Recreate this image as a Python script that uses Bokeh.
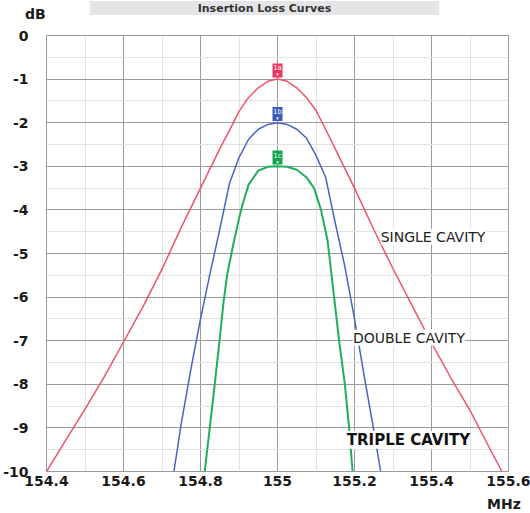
from bokeh.plotting import figure
from bokeh.models import FixedTicker, Label, ColumnDataSource
from bokeh.transform import dodge
from bokeh.core.properties import value
from bokeh.embed import file_html
from bokeh.resources import INLINE

# ---- data ----
single_f = [154.40, 154.45, 154.50, 154.55, 154.60, 154.65, 154.70, 154.75, 154.80, 154.85,
            154.875, 154.90, 154.925, 154.95, 154.975, 155.00, 155.025, 155.05, 155.075, 155.10,
            155.125, 155.15, 155.20, 155.25, 155.30, 155.35, 155.40, 155.45, 155.50, 155.55,
            155.583]
single_db = [-10.0, -9.28, -8.57, -7.83, -7.03, -6.23, -5.36, -4.4, -3.5, -2.6,
             -2.18, -1.74, -1.42, -1.2, -1.05, -1.0, -1.05, -1.2, -1.42, -1.72,
             -2.15, -2.6, -3.5, -4.45, -5.35, -6.2, -7.05, -7.85, -8.6, -9.45,
             -10.0]

double_f = [154.731, 154.75, 154.775, 154.80, 154.825, 154.85, 154.875, 154.90, 154.925, 154.95,
            154.975, 155.00, 155.025, 155.05, 155.075, 155.10, 155.125, 155.15, 155.175, 155.20,
            155.225, 155.25, 155.268]
double_db = [-10.0, -8.9, -7.65, -6.5, -5.45, -4.45, -3.4, -2.8, -2.38, -2.15,
             -2.04, -2.0, -2.04, -2.15, -2.35, -2.75, -3.25, -4.3, -5.3, -6.5,
             -7.8, -9.05, -10.0]

triple_f = [154.811, 154.824, 154.837, 154.85, 154.86, 154.87, 154.885, 154.90, 154.91, 154.925,
            154.95, 154.975, 155.00, 155.025, 155.05, 155.075, 155.095, 155.113, 155.13, 155.147,
            155.16, 155.175, 155.186, 155.195]
triple_db = [-10.0, -9.0, -8.0, -6.95, -6.1, -5.45, -4.8, -4.2, -3.85, -3.42,
             -3.1, -3.01, -3.0, -3.01, -3.08, -3.25, -3.5, -4.0, -4.7, -6.0,
             -7.0, -8.0, -9.0, -10.0]

x_ticks = [154.4, 154.6, 154.8, 155.0, 155.2, 155.4, 155.6]
x_tick_labels = ["154.4", "154.6", "154.8", "155", "155.2", "155.4", "155.6"]
x_minor = [154.5, 154.7, 154.9, 155.1, 155.3, 155.5]
y_ticks = [0, -1, -2, -3, -4, -5, -6, -7, -8, -9, -10]
y_tick_labels = ["0", "-1", "-2", "-3", "-4", "-5", "-6", "-7", "-8", "-9", "-10"]
y_minor = [-0.5, -1.5, -2.5, -3.5, -4.5, -5.5, -6.5, -7.5, -8.5, -9.5]

marker_labels = ["1a", "1b", "1c"]
curve_names = ["SINGLE CAVITY", "DOUBLE CAVITY", "TRIPLE CAVITY"]
title_text = "Insertion Loss Curves"
x_unit = "MHz"
y_unit = "dB"

RED, BLUE, GREEN = "#f0526c", "#4b62c2", "#1fae5c"
BOX_COLORS = ["#e8385c", "#3a5bb8", "#16a34e"]

p = figure(width=530, height=513, x_range=(154.4, 155.6), y_range=(-10, 0),
           output_backend="svg", toolbar_location=None,
           min_border_left=44, min_border_right=22, min_border_top=35, min_border_bottom=42)

p.background_fill_color = "white"
p.border_fill_color = "white"
p.outline_line_color = "#9a9a9a"

p.xaxis.ticker = FixedTicker(ticks=x_ticks, minor_ticks=x_minor)
p.yaxis.ticker = FixedTicker(ticks=y_ticks, minor_ticks=y_minor)
p.xaxis.major_label_overrides = dict(zip(x_ticks, x_tick_labels))
p.yaxis.major_label_overrides = dict(zip(y_ticks, y_tick_labels))

for ax in (p.xaxis[0], p.yaxis[0]):
    ax.axis_line_color = None
    ax.major_tick_line_color = None
    ax.minor_tick_line_color = None
    ax.major_tick_out = 0
    ax.major_tick_in = 0
    ax.minor_tick_out = 0
    ax.minor_tick_in = 0
    ax.major_label_text_font = "DejaVu Sans"
    ax.major_label_text_font_style = "bold"
    ax.major_label_text_font_size = "14px"
    ax.major_label_text_color = "#1a1a1a"
p.xaxis.major_label_standoff = 4
p.yaxis.major_label_standoff = 18
p.yaxis.major_label_text_align = "center"

for g in (p.xgrid[0], p.ygrid[0]):
    g.grid_line_color = "#9a9a9a"
    g.grid_line_width = 1
    g.minor_grid_line_color = "#e2e2e2"
    g.minor_grid_line_width = 1

p.line(single_f, single_db, line_color=RED, line_width=1.5)
p.line(double_f, double_db, line_color=BLUE, line_width=1.5)
p.line(triple_f, triple_db, line_color=GREEN, line_width=2)

peak_src = ColumnDataSource(dict(
    x=[single_f[single_db.index(max(single_db))],
       double_f[double_db.index(max(double_db))],
       triple_f[triple_db.index(max(triple_db))]],
    y=[max(single_db), max(double_db), max(triple_db)],
    lab=marker_labels,
    col=BOX_COLORS,
))
p.rect(x="x", y=dodge("y", 0.2, range=p.y_range), width=10, height=14,
       width_units="screen", height_units="screen",
       fill_color="col", line_color=None, source=peak_src)
p.text(x="x", y=dodge("y", 0.2, range=p.y_range), text="lab", source=peak_src,
       text_align="center", text_baseline="middle", y_offset=-2,
       text_font=value("DejaVu Sans"), text_font_size="7px", text_color="white")
p.text(x="x", y=dodge("y", 0.2, range=p.y_range), text=value("▾"), source=peak_src,
       text_align="center", text_baseline="middle", y_offset=4,
       text_font=value("DejaVu Sans"), text_font_size="5px", text_color="white")

# curve name labels
p.add_layout(Label(x=155.268, y=-4.614, text=curve_names[0], text_baseline="middle",
                   text_font="DejaVu Sans", text_font_size="14px", text_color="#222222",
                   background_fill_color="white"))
p.add_layout(Label(x=155.196, y=-6.93, text=curve_names[1], text_baseline="middle",
                   text_font="DejaVu Sans", text_font_size="14px", text_color="#222222",
                   background_fill_color="white"))
p.add_layout(Label(x=155.180, y=-9.27, text=curve_names[2], text_baseline="middle",
                   text_font="DejaVu Sans", text_font_style="bold", text_font_size="15px",
                   text_color="#111111", background_fill_color="white"))

# labels outside the frame live in side panels (not clipped by the frame)
p.add_layout(Label(x=-21.5, y=22, x_units="screen", y_units="screen", text=y_unit,
                   text_baseline="middle", text_font="DejaVu Sans", text_font_style="bold",
                   text_font_size="14px", text_color="#1a1a1a"), "above")
p.add_layout(Label(x=218, y=4.6, x_units="screen", y_units="screen",
                   text=title_text, text_align="center", text_baseline="bottom",
                   text_font="DejaVu Sans", text_font_style="bold", text_font_size="11px",
                   text_color="#333333", background_fill_color="#e5e5e8",
                   padding=dict(left=108, right=108, top=1, bottom=0)), "above")
p.add_layout(Label(x=440.5, y=1, x_units="screen", y_units="screen", text=x_unit,
                   text_baseline="middle", text_font="DejaVu Sans", text_font_style="bold",
                   text_font_size="14px", text_color="#1a1a1a"), "below")

open("out.html", "w").write(file_html(p, INLINE))
